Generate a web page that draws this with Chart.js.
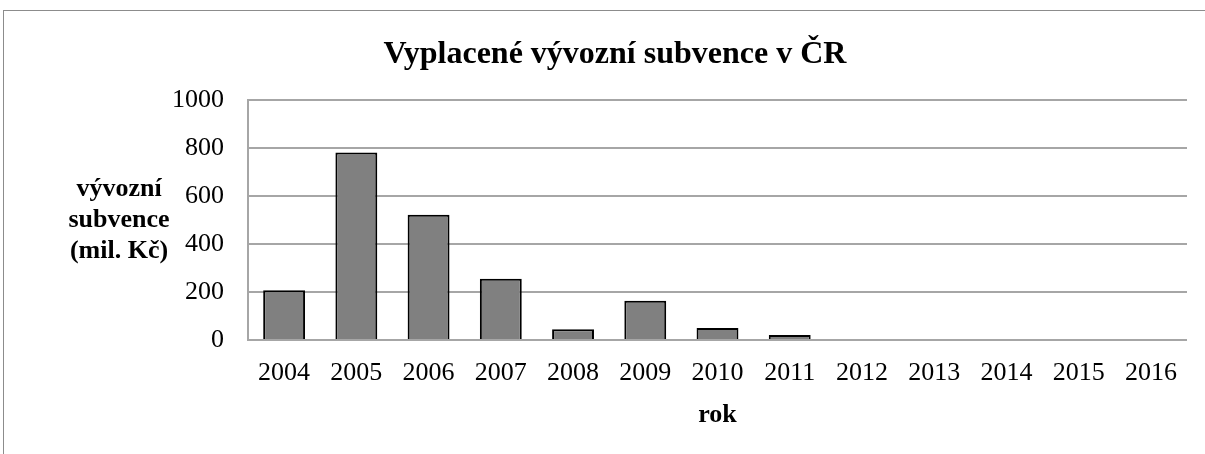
<!DOCTYPE html>
<html>
<head>
<meta charset="utf-8">
<script src="https://cdn.jsdelivr.net/npm/chart.js@4/dist/chart.umd.min.js"></script>
<style>
  html, body { margin: 0; padding: 0; background: #fff; overflow: hidden; }
  #wrap { position: absolute; left: 0; top: 0; width: 1205px; height: 454px; }
</style>
</head>
<body>
<div id="wrap"><canvas id="chart" width="1205" height="454"></canvas></div>
<script>
// data
const years = ['2004', '2005', '2006', '2007', '2008', '2009', '2010', '2011', '2012', '2013', '2014', '2015', '2016'];
const subsidies = [207, 781, 522, 255, 45, 164, 50, 21, 0, 0, 0, 0, 0];
const yTicks = [0, 200, 400, 600, 800, 1000];

const chartTitle = 'Vyplacené vývozní subvence v ČR';
const yTitleLines = ['vývozní', 'subvence', '(mil. Kč)'];
const xTitle = 'rok';

const serif = '"Liberation Serif", "Times New Roman", serif';

// frame + title + horizontal axis titles (Excel style)
const textPlugin = {
    id: 'texts',
    beforeDraw(chart) {
        const ctx = chart.ctx;
        ctx.save();
        ctx.strokeStyle = '#8c8c8c';
        ctx.lineWidth = 1;
        ctx.strokeRect(3.5, 10.5, 1400, 600);
        ctx.restore();
    },
    afterDraw(chart) {
        const ctx = chart.ctx;
        const area = chart.chartArea;
        ctx.save();
        ctx.fillStyle = '#000';
        ctx.textAlign = 'center';
        ctx.textBaseline = 'alphabetic';

        ctx.font = 'bold 32px ' + serif;
        ctx.fillText(chartTitle, 615, 63);

        ctx.font = 'bold 26px ' + serif;
        const base = [196, 227, 258];
        yTitleLines.forEach((line, i) => ctx.fillText(line, 119, base[i]));

        ctx.fillText(xTitle, (area.left + area.right) / 2, 422);
        ctx.restore();
    }
};

new Chart(document.getElementById('chart'), {
    type: 'bar',
    data: {
        labels: years,
        datasets: [{
            data: subsidies,
            backgroundColor: '#808080',
            borderColor: '#000000',
            borderWidth: 2,
            borderSkipped: 'bottom',
            barPercentage: 0.58,
            categoryPercentage: 1.0
        }]
    },
    options: {
        responsive: false,
        animation: false,
        layout: { padding: { top: 100, right: 18, left: 0, bottom: 0 } },
        plugins: {
            legend: { display: false },
            tooltip: { enabled: false },
            title: { display: false }
        },
        scales: {
            x: {
                grid: { display: false, drawTicks: false },
                border: { display: false },
                ticks: {
                    color: '#000',
                    font: { family: serif, size: 26 },
                    padding: 18,
                    maxRotation: 0,
                    autoSkip: false
                },
                afterFit(scale) { scale.height = 114; }
            },
            y: {
                min: 0,
                max: 1000,
                afterBuildTicks(scale) { scale.ticks = yTicks.map(v => ({ value: v })); },
                grid: { color: '#a6a6a6', lineWidth: 2, drawTicks: false },
                border: { display: true, color: '#a6a6a6', width: 2 },
                ticks: {
                    color: '#000',
                    font: { family: serif, size: 26 },
                    padding: 24,
                    callback: v => String(v)
                },
                afterFit(scale) { scale.width = 248; }
            }
        }
    },
    plugins: [textPlugin]
});
</script>
</body>
</html>
